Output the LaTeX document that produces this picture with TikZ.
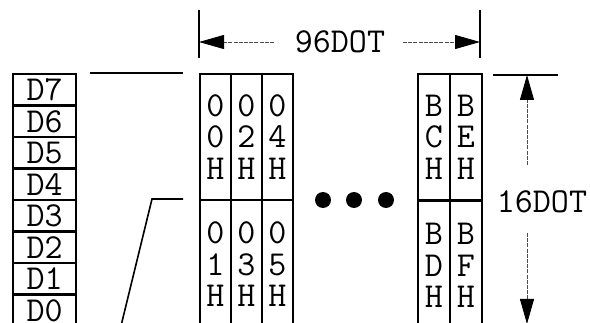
\documentclass[tikz,border=0pt]{standalone}
\usetikzlibrary{arrows.meta}
\begin{document}
\begin{tikzpicture}[x=1pt,y=-1pt,
  txt/.style={font=\fontsize{35}{31.5}\selectfont\ttfamily},
  dcell/.style={draw,line width=2.4pt,minimum width=63pt,minimum height=31.5pt,inner sep=0pt,anchor=north west,txt},
  ucell/.style={draw,line width=2pt,minimum width=31pt,minimum height=126pt,inner sep=0pt,anchor=north west,align=center,txt},
  lcell/.style={ucell,minimum height=129pt},
  ext/.style={line width=1.6pt},
  dimline/.style={line width=0.8pt,black!70,dash pattern=on 4pt off 1.2pt,-{Triangle[length=25pt,width=14pt,black]}},
  dotmark/.style={circle,fill,minimum size=16pt,inner sep=0pt}
]
\clip (0,0) rectangle (590,323);
\fill[white] (0,0) rectangle (590,323);
% D column
\foreach \i/\n in {0/7,1/6,2/5,3/4,4/3,5/2,6/1,7/0}{
  \node[dcell] (d\n) at (12,73+31.5*\i) {D\n};
}
% left block
\node[ucell] (u00) at (199,73) {0\\0\\H};
\node[ucell] (u02) at (230,73) {0\\2\\H};
\node[ucell] (u04) at (261,73) {0\\4\\H};
\node[lcell] (l01) at (199,199) {0\\1\\H};
\node[lcell] (l03) at (230,199) {0\\3\\H};
\node[lcell] (l05) at (261,199) {0\\5\\H};
% right block
\node[ucell,minimum width=32pt] (ubc) at (417,73) {B\\C\\H};
\node[ucell,minimum width=32pt] (ube) at (449,73) {B\\E\\H};
\node[lcell,minimum width=32pt] (lbd) at (417,200) {B\\D\\H};
\node[lcell,minimum width=32pt] (lbf) at (449,200) {B\\F\\H};
% dots
\node[dotmark] (dot1) at (323,200) {};
\node[dotmark] (dot2) at (354,200) {};
\node[dotmark] (dot3) at (386,200) {};
% connectors from D column
\coordinate (ca) at (90,73);
\coordinate (cb) at (183,73);
\coordinate (cc) at (183,199);
\coordinate (cd) at (152,199);
\coordinate (ce) at (120,330);
\draw[ext] (ca) -- (cb);
\draw[ext] (cc) -- (cd) -- (ce);
% top dimension
\coordinate (wl1) at (199,10);
\coordinate (wl2) at (199,58);
\coordinate (wr1) at (480,10);
\coordinate (wr2) at (480,58);
\draw[ext] (wl1) -- (wl2);
\draw[ext] (wr1) -- (wr2);
\node[txt] (w) at (340,42) {96DOT};
\coordinate (wa) at (274,42);
\coordinate (wat) at (199,42);
\coordinate (wb) at (403,42);
\coordinate (wbt) at (480,42);
\draw[dimline] (wa) -- (wat);
\draw[dimline] (wb) -- (wbt);
% right dimension
\coordinate (hx1) at (493,75);
\coordinate (hx2) at (558,75);
\draw[ext] (hx1) -- (hx2);
\node[txt] (h) at (542,202) {16DOT};
\coordinate (ha) at (527,165);
\coordinate (hat) at (527,75);
\coordinate (hb) at (527,233);
\coordinate (hbt) at (527,324);
\draw[dimline] (ha) -- (hat);
\draw[dimline] (hb) -- (hbt);
\end{tikzpicture}
\end{document}
